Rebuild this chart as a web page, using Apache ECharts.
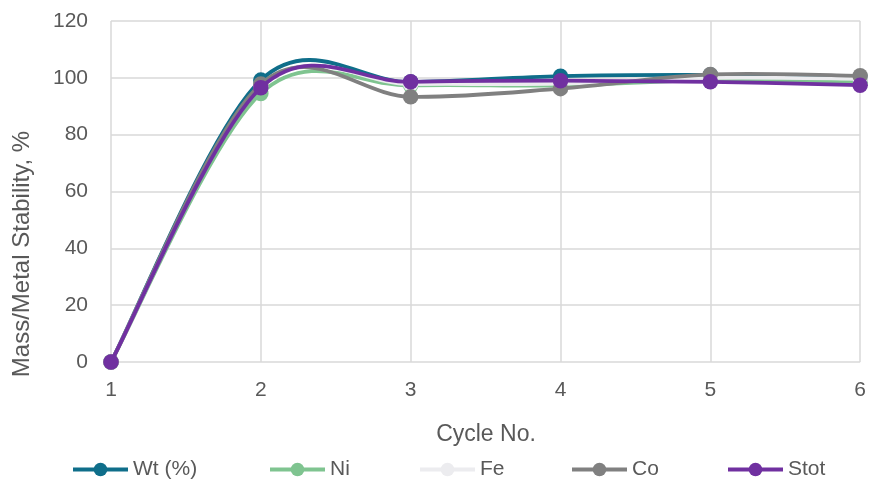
<!DOCTYPE html>
<html><head><meta charset="utf-8">
<script src="https://cdn.jsdelivr.net/npm/echarts@6/dist/echarts.min.js"></script>
<style>html,body{margin:0;padding:0;background:#fff}#c{width:869px;height:481px}</style>
</head><body><div id="c"></div>
<script>
const cycles = [1, 2, 3, 4, 5, 6];
const wt   = [0, 99.2, 98.5, 100.6, 101, 100.2];
const ni   = [0, 94.5, 97.3, 97.3, 99.2, 98.4];
const fe   = [0, 97, 97.8, 98, 100, 99.7];
const co   = [0, 97.8, 93.3, 96.2, 101.2, 100.7];
const stot = [0, 96.5, 98.6, 99, 98.6, 97.4];
const yTicks = [0, 20, 40, 60, 80, 100, 120];
const names = ['Wt (%)', 'Ni', 'Fe', 'Co', 'Stot'];
const colors = ['#0f6e8a', '#7fc490', '#ececef', '#808080', '#7030a0'];
const values = [wt, ni, fe, co, stot];
const legendLeft = [71, 268, 418, 570, 726];
const font = 'Liberation Sans';
const txt = '#595959';

// Excel-like smoothed line: cubic Bezier segments (Catmull-Rom control points), via axis coords
function smoothRender(vals, color) {
  return function (params, api) {
    if (params.dataIndex !== 0) return null;
    const p = cycles.map((c, j) => api.coord([c, vals[j]]));
    const n = p.length, t = 1 / 6, children = [];
    for (let i = 0; i < n - 1; i++) {
      const p0 = p[Math.max(i - 1, 0)], p1 = p[i], p2 = p[i + 1], p3 = p[Math.min(i + 2, n - 1)];
      children.push({
        type: 'bezierCurve',
        shape: {
          x1: p1[0], y1: p1[1], x2: p2[0], y2: p2[1],
          cpx1: p1[0] + (p2[0] - p0[0]) * t, cpy1: p1[1] + (p2[1] - p0[1]) * t,
          cpx2: p2[0] - (p3[0] - p1[0]) * t, cpy2: p2[1] - (p3[1] - p1[1]) * t
        },
        style: {stroke: color, lineWidth: 3.8, fill: null, lineCap: 'round'}
      });
    }
    return {type: 'group', children: children};
  };
}

const series = [];
values.forEach((v, i) => {
  series.push({
    name: '_curve' + i, type: 'custom', clip: false,
    data: cycles.map((c, j) => [c, v[j]]),
    encode: {x: 0, y: 1},
    renderItem: smoothRender(v, colors[i]),
    z: 2 + 2 * i, silent: true
  });
  series.push({
    name: names[i], type: 'line', smooth: false,
    data: cycles.map((c, j) => [c, v[j]]),
    symbol: 'circle', symbolSize: 15.5, showSymbol: true,
    lineStyle: {color: colors[i], width: 0, opacity: 0},
    itemStyle: {color: colors[i]},
    z: 3 + 2 * i
  });
});

const chart = echarts.init(document.getElementById('c'), null, {renderer: 'canvas'});
chart.setOption({
  animation: false,
  grid: {left: 111, right: 6, top: 21, bottom: 119, containLabel: false},
  xAxis: {
    type: 'value', min: 1, max: 6, interval: 1,
    axisLine: {show: false}, axisTick: {show: false},
    axisLabel: {fontFamily: font, fontSize: 21, color: txt, margin: 18},
    splitLine: {show: true, lineStyle: {color: '#d9d9d9', width: 1.5}}
  },
  yAxis: {
    type: 'value', min: yTicks[0], max: yTicks[yTicks.length - 1], interval: 20,
    axisLine: {show: false}, axisTick: {show: false},
    axisLabel: {fontFamily: font, fontSize: 21, color: txt, margin: 23},
    splitLine: {show: true, lineStyle: {color: '#d9d9d9', width: 1.5}}
  },
  graphic: [
    {type: 'text', x: 486, y: 435, style: {text: 'Cycle No.', font: '23px "Liberation Sans"', fill: txt, textAlign: 'center', textVerticalAlign: 'middle'}},
    {type: 'text', x: 22, y: 254, rotation: Math.PI / 2, style: {text: 'Mass/Metal Stability, %', font: '24px "Liberation Sans"', fill: txt, textAlign: 'center', textVerticalAlign: 'middle'}}
  ],
  legend: names.map((n, i) => ({
    data: [{name: n, lineStyle: {color: colors[i], width: 4, opacity: 1}, itemStyle: {color: colors[i]}}],
    left: legendLeft[i], top: 459, padding: 0, itemWidth: 55, itemHeight: 17, itemGap: 0,
    textStyle: {fontFamily: font, fontSize: 21, color: txt}
  })),
  series: series
});
</script></body></html>
